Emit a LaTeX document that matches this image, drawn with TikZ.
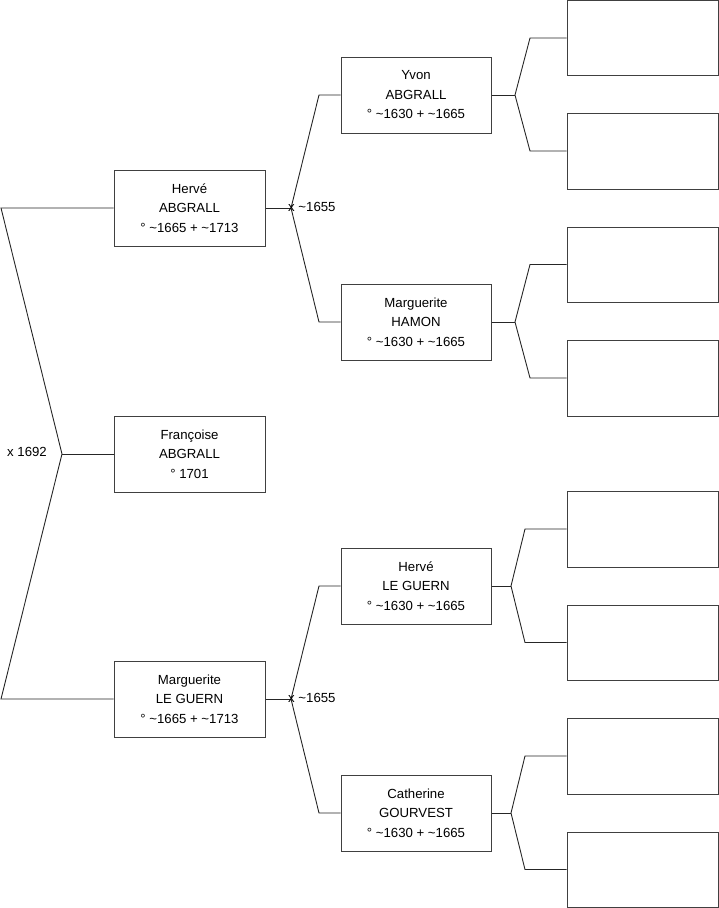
\documentclass[tikz,border=0pt]{standalone}
\usepackage{fontspec}
\setmainfont{Liberation Sans}
\begin{document}
\begin{tikzpicture}[x=1pt,y=-1pt,
  person/.style={draw=black!75,line width=1pt,fill=white,minimum width=151pt,minimum height=76pt,
    align=center,font=\fontsize{13.2}{19.5}\selectfont,inner sep=0pt},
  conn/.style={draw=black!85,line width=0.9pt},
  lbl/.style={font=\fontsize{13.2}{15}\selectfont,inner sep=0pt}]
\useasboundingbox (0,0) rectangle (719,908);
% generation 1
\node[person] (h) at (189.5,208) {Hervé\\ABGRALL\\° \textasciitilde1665 + \textasciitilde1713};
\node[person] (fr) at (189.5,454) {Françoise\\ABGRALL\\° 1701};
\node[person] (mg) at (189.5,699) {Marguerite\\LE GUERN\\° \textasciitilde1665 + \textasciitilde1713};
% generation 2
\node[person,minimum width=150pt] (yv) at (416,95) {Yvon\\ABGRALL\\° \textasciitilde1630 + \textasciitilde1665};
\node[person,minimum width=150pt] (mh) at (416,322) {Marguerite\\HAMON\\° \textasciitilde1630 + \textasciitilde1665};
\node[person,minimum width=150pt] (hl) at (416,586) {Hervé\\LE GUERN\\° \textasciitilde1630 + \textasciitilde1665};
\node[person,minimum width=150pt] (cg) at (416,813) {Catherine\\GOURVEST\\° \textasciitilde1630 + \textasciitilde1665};
% generation 3
\node[person,minimum height=75pt] (a1) at (642.5,38) {};
\node[person] (a2) at (642.5,151) {};
\node[person,minimum height=75pt] (a3) at (642.5,264.5) {};
\node[person] (a4) at (642.5,378) {};
\node[person] (a5) at (642.5,529) {};
\node[person,minimum height=75pt] (a6) at (642.5,642.5) {};
\node[person] (a7) at (642.5,756) {};
\node[person,minimum height=75pt] (a8) at (642.5,869.5) {};
% junctions
\coordinate (j0) at (62,454);
\coordinate (f0) at (1,208);
\coordinate (m0) at (1,699);
\coordinate (j1) at (291,208);
\coordinate (b1a) at (319,95);
\coordinate (b1b) at (319,322);
\coordinate (j2) at (291,699);
\coordinate (b2a) at (319,586);
\coordinate (b2b) at (319,813);
\coordinate (k1) at (515,95);
\coordinate (k1a) at (530,38);
\coordinate (k1b) at (530,151);
\coordinate (k2) at (515,322);
\coordinate (k2a) at (530,264.5);
\coordinate (k2b) at (530,378);
\coordinate (k3) at (511,586);
\coordinate (k3a) at (525,529);
\coordinate (k3b) at (525,642.5);
\coordinate (k4) at (511,813);
\coordinate (k4a) at (525,756);
\coordinate (k4b) at (525,869.5);
% connectors
\draw[conn] (h.west) -- (f0) -- (j0) -- (m0) -- (mg.west);
\draw[conn] (j0) -- (fr.west);
\draw[conn] (h.east) -- (j1);
\draw[conn] (yv.west) -- (b1a) -- (j1) -- (b1b) -- (mh.west);
\draw[conn] (mg.east) -- (j2);
\draw[conn] (hl.west) -- (b2a) -- (j2) -- (b2b) -- (cg.west);
\draw[conn] (yv.east) -- (k1); \draw[conn] (a1.west) -- (k1a) -- (k1) -- (k1b) -- (a2.west);
\draw[conn] (mh.east) -- (k2); \draw[conn] (a3.west) -- (k2a) -- (k2) -- (k2b) -- (a4.west);
\draw[conn] (hl.east) -- (k3); \draw[conn] (a5.west) -- (k3a) -- (k3) -- (k3b) -- (a6.west);
\draw[conn] (cg.east) -- (k4); \draw[conn] (a7.west) -- (k4a) -- (k4) -- (k4b) -- (a8.west);
% labels
\node[lbl,anchor=east] (l0) at (47,452) {x 1692};
\node[lbl,anchor=west] (l1) at (288,207) {x \textasciitilde1655};
\node[lbl,anchor=west] (l2) at (288,698) {x \textasciitilde1655};
\end{tikzpicture}
\end{document}
